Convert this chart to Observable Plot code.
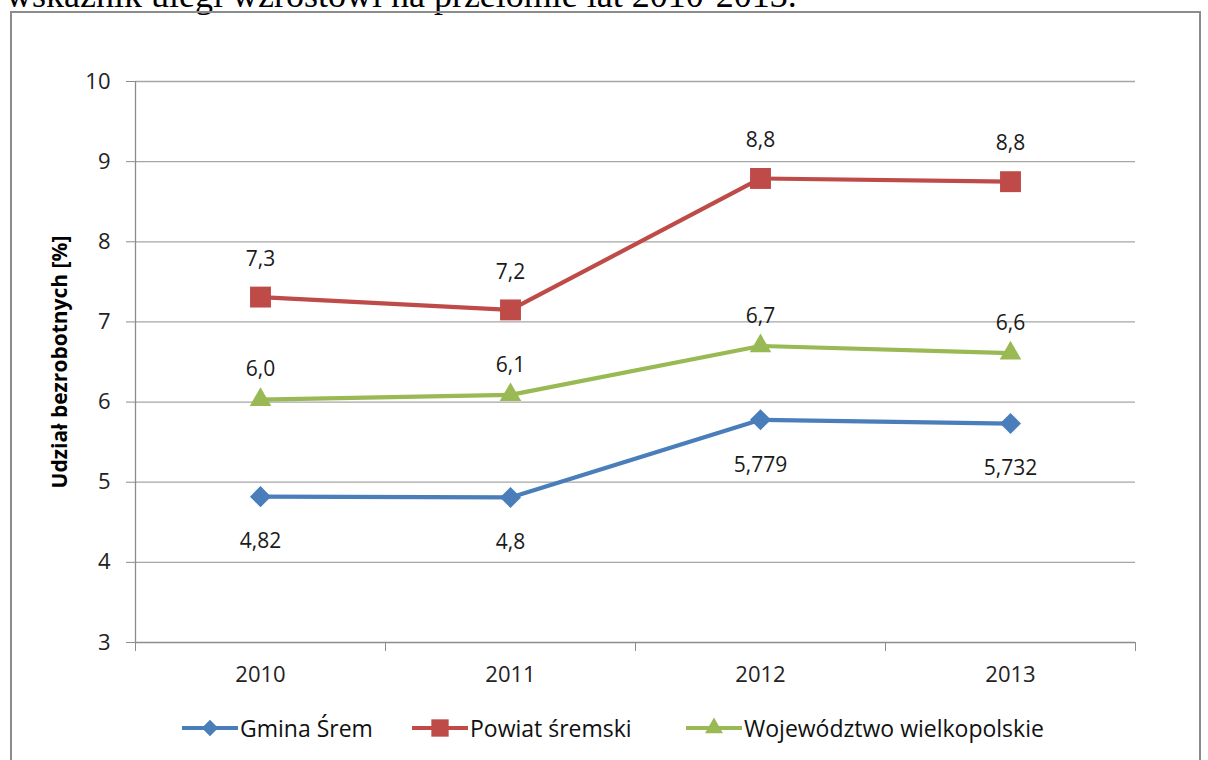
<!DOCTYPE html>
<html><head><meta charset="utf-8">
<script src="https://cdn.jsdelivr.net/npm/d3@7"></script>
<script src="https://cdn.jsdelivr.net/npm/@observablehq/plot@0.6"></script>
<style>
html,body{margin:0;padding:0;background:#fff;}
#wrap{position:relative;width:1208px;height:760px;overflow:hidden;font-family:"Open Sans",Lato,sans-serif;}
#frame{position:absolute;left:10px;top:11px;width:1191px;height:800px;border:2px solid #8c8c8c;box-sizing:border-box;}
#intro{position:absolute;left:6px;top:-23px;font-family:"Liberation Serif",serif;font-size:36px;line-height:1;white-space:nowrap;color:#000;}
#chart{position:absolute;left:0;top:0;}
#legend{position:absolute;left:0;top:700px;width:1208px;height:56px;}
.item{position:absolute;top:12px;display:flex;align-items:center;font-size:23px;color:#111;}
.item svg{margin-right:2px;}
</style></head>
<body><div id="wrap">
<div id="intro">wskaźnik uległ wzrostowi na przełomie lat 2010-2013.</div>
<div id="frame"></div>
<div id="chart"></div>
<div id="legend"></div>
</div>
<script>
const years = [2010, 2011, 2012, 2013];
const seriesNames = ["Gmina Śrem", "Powiat śremski", "Województwo wielkopolskie"];
const gmina = [4.82, 4.81, 5.779, 5.732];
const powiat = [7.31, 7.15, 8.79, 8.75];
const wojewodztwo = [6.03, 6.09, 6.7, 6.61];
const gminaLabels = ["4,82", "4,8", "5,779", "5,732"];
const powiatLabels = ["7,3", "7,2", "8,8", "8,8"];
const wojLabels = ["6,0", "6,1", "6,7", "6,6"];
const yTicks = [3, 4, 5, 6, 7, 8, 9, 10];
const yTitle = "Udział bezrobotnych [%]";

const colors = ["#4a7ebb", "#be4b48", "#98b954"];
const symbols = ["diamond2", "square", "triangle"];
const radii = [9.5, 11.8, 8];
const labelDy = [45, -38, -30];

const valuesList = [gmina, powiat, wojewodztwo];
const labelsList = [gminaLabels, powiatLabels, wojLabels];
const rows = [];
seriesNames.forEach((s, i) => years.forEach((yr, j) => rows.push({series: s, idx: i, year: yr, value: valuesList[i][j], label: labelsList[i][j]})));

const bounds = [years[0] - 0.5, ...years.map(y => y + 0.5)];

const marks = [
  Plot.ruleY(yTicks.slice(1), {stroke: "#a6a6a6", strokeWidth: 1.3}),
  Plot.ruleY([yTicks[0]], {stroke: "#8c8c8c", strokeWidth: 1.3}),
  Plot.ruleX([bounds[0]], {stroke: "#8c8c8c", strokeWidth: 1.3}),
  Plot.axisY(yTicks, {tickSize: 9, tickPadding: 16, fontSize: 22, fill: "#222", stroke: "#8c8c8c", label: null, tickFormat: d => String(d)}),
  Plot.axisX(bounds, {tickSize: 9, tickFormat: () => "", stroke: "#8c8c8c", label: null}),
  Plot.axisX(years, {tickSize: 0, tickPadding: 24, fontSize: 22, fill: "#222", label: null, tickFormat: d => String(d)}),
  Plot.text([yTitle], {frameAnchor: "left", textAnchor: "middle", dx: -75, rotate: -90, fontSize: 21, fontWeight: "bold", fill: "#000", text: d => d})
];
seriesNames.forEach((s, i) => {
  const d = rows.filter(r => r.idx === i);
  marks.push(Plot.line(d, {x: "year", y: "value", stroke: colors[i], strokeWidth: 4.2}));
  marks.push(Plot.dot(d, {x: "year", y: "value", symbol: () => symbols[i], r: radii[i], fill: colors[i], stroke: "none"}));
  marks.push(Plot.text(d, {x: "year", y: "value", text: "label", dy: labelDy[i], fontSize: 21, fill: "#1a1a1a"}));
});

const chart = Plot.plot({
  width: 1208, height: 700,
  marginLeft: 135, marginRight: 73, marginTop: 81, marginBottom: 58,
  x: {domain: [bounds[0], bounds[bounds.length - 1]], axis: null},
  y: {domain: [yTicks[0], yTicks[yTicks.length - 1]], axis: null},
  symbol: {type: "identity"},
  style: {fontFamily: "'Open Sans', Lato, sans-serif", background: "transparent", overflow: "visible"},
  marks
});
document.getElementById("chart").appendChild(chart);

const lefts = [182, 412, 686];
const legend = document.getElementById("legend");
seriesNames.forEach((s, i) => {
  const el = document.createElement("div");
  el.className = "item";
  el.style.left = lefts[i] + "px";
  const sym = d3.symbol(i === 0 ? d3.symbolDiamond2 : i === 1 ? d3.symbolSquare : d3.symbolTriangle, i === 0 ? 170 : i === 1 ? 300 : 140)();
  el.innerHTML = `<svg width="56" height="26" viewBox="0 0 56 26"><line x1="0" x2="56" y1="13" y2="13" stroke="${colors[i]}" stroke-width="4.2"/><path transform="translate(28,13)" d="${sym}" fill="${colors[i]}"/></svg><span>${s}</span>`;
  legend.appendChild(el);
});
</script>
</body></html>
